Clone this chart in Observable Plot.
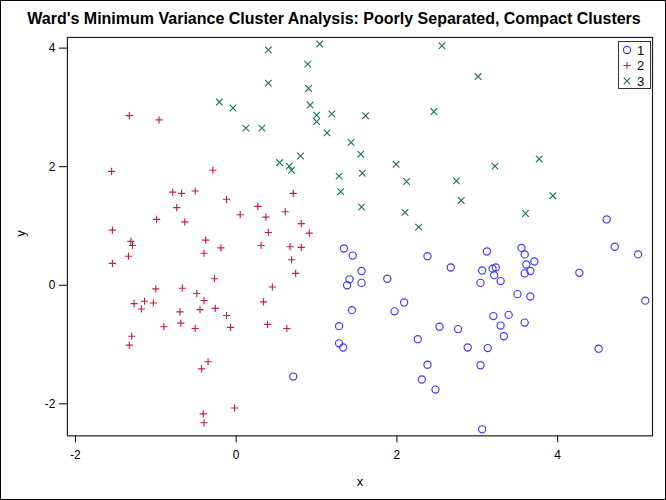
<!DOCTYPE html>
<html>
<head>
<meta charset="utf-8">
<script src="https://cdn.jsdelivr.net/npm/d3@7"></script>
<script src="https://cdn.jsdelivr.net/npm/@observablehq/plot@0.6"></script>
<style>
  body { margin: 0; background: #fff; }
  #wrap { position: relative; width: 666px; height: 500px; box-sizing: border-box; border: 1px solid #000; overflow: hidden; font-family: "Liberation Sans", Arial, sans-serif; }
  #title { position: absolute; left: 0; top: 9px; width: 666px; text-align: center; font-weight: bold; font-size: 16px; color: #000; }
  #chart { position: absolute; left: -1px; top: -1px; }
  #legend { position: absolute; left: 617px; top: 40px; width: 31px; height: 46px; border: 1px solid #333; background: #fff; }
  #legend svg { display: block; }
</style>
</head>
<body>
<div id="wrap">
  <div id="chart"></div>
  <div id="title">Ward's Minimum Variance Cluster Analysis: Poorly Separated, Compact Clusters</div>
  <div id="legend"></div>
</div>
<script>
// Cluster 1 (blue circles)
const cluster1X = [1.34, 1.45, 1.56, 1.41, 1.38, 1.56, 1.44, 1.28, 1.28, 1.33, 0.71,
  2.38, 2.67, 1.88, 2.09, 1.97, 2.53, 2.76, 2.26, 2.88, 3.13, 2.38, 2.31, 2.48, 3.04, 3.06,
  3.12, 3.06, 3.04, 3.19, 3.23, 3.21, 3.29, 3.55, 3.59, 3.61, 3.71, 3.59, 3.66, 3.50, 3.66,
  3.20, 3.39, 3.29, 3.33, 3.59, 4.27, 4.71, 5.00, 5.09, 4.51, 4.61];
const cluster1Y = [0.62, 0.50, 0.24, 0.10, 0.00, 0.04, -0.42, -0.69, -0.98, -1.05, -1.54,
  0.49, 0.30, 0.11, -0.29, -0.44, -0.70, -0.74, -0.91, -1.05, -1.06, -1.34, -1.59, -1.76, -1.35, -2.43,
  0.57, 0.25, 0.04, 0.28, 0.30, 0.17, 0.07, 0.63, 0.52, 0.35, 0.40, 0.20, 0.24, -0.15, -0.19,
  -0.52, -0.50, -0.68, -0.86, -0.63, 0.21, 0.65, 0.52, -0.26, -1.07, 1.11];

// Cluster 2 (red plus)
const cluster2X = [-1.33, -0.96, -1.55, -0.29, -0.79, -0.68, -0.51, -0.12, 0.71, -0.74,
  0.27, 0.05, 0.37, 0.61, -0.99, -0.64, 0.81, -1.54, 0.40, 0.91,
  -1.31, -1.29, -0.38, -0.19, -0.40, 0.31, 0.67, 0.81, -1.34, -1.54,
  0.69, 0.74, -0.27, -1.00, -0.67, 0.45, -0.49, -0.40, -1.27, -1.14,
  -1.18, -1.03, -0.70, -0.45, -0.26, 0.34, -0.12, -0.90, -0.69, -0.51,
  -0.07, 0.39, 0.63, -1.30, -1.33, -0.35, -0.43, -0.02, -0.41, -0.40];
const cluster2Y = [2.86, 2.79, 1.92, 1.94, 1.57, 1.55, 1.59, 1.45, 1.55, 1.31,
  1.33, 1.19, 1.15, 1.24, 1.11, 1.07, 1.04, 0.93, 0.89, 0.88,
  0.74, 0.67, 0.76, 0.63, 0.54, 0.67, 0.65, 0.64, 0.49, 0.37,
  0.43, 0.20, 0.11, -0.06, -0.05, -0.03, -0.14, -0.26, -0.31, -0.27,
  -0.40, -0.30, -0.45, -0.41, -0.39, -0.28, -0.51, -0.70, -0.64, -0.73,
  -0.71, -0.66, -0.73, -0.86, -1.01, -1.29, -1.41, -2.07, -2.17, -2.32];

// Cluster 3 (teal times)
const cluster3X = [0.40, 1.04, 0.89, 0.40, 0.90, -0.21, -0.04, 0.92, 1.00, 1.00,
  1.19, 0.12, 0.32, 1.13, 1.43, 1.55, 0.54, 0.66, 0.69, 0.80,
  1.28, 1.30, 1.57, 1.56, 2.56, 3.01, 1.61, 2.46, 1.99, 2.12,
  2.74, 3.22, 3.77, 2.10, 2.80, 2.27, 3.60, 3.94];
const cluster3Y = [3.97, 4.07, 3.73, 3.41, 3.32, 3.09, 2.99, 3.04, 2.87, 2.76,
  2.89, 2.65, 2.65, 2.57, 2.41, 2.21, 2.07, 2.01, 1.94, 2.18,
  1.84, 1.58, 1.89, 1.32, 4.04, 3.52, 2.86, 2.93, 2.04, 1.75,
  1.76, 2.01, 2.13, 1.23, 1.43, 0.98, 1.21, 1.51];

const clusters = ["1", "2", "3"];
const clusterColors = ["#3a3aff", "#c8203c", "#1b7565"];
const clusterSymbols = ["circle", "plus", "times"];
const xTicks = [-2, 0, 2, 4];
const yTicks = [-2, 0, 2, 4];

const points = [
  ...cluster1X.map((x, i) => ({x, y: cluster1Y[i], c: "1"})),
  ...cluster2X.map((x, i) => ({x, y: cluster2Y[i], c: "2"})),
  ...cluster3X.map((x, i) => ({x, y: cluster3Y[i], c: "3"}))
];

const fontFam = "'Liberation Sans', Arial, sans-serif";
const symR = {"1": 3.6, "2": 2.45, "3": 3.1};
const fmt = d => d < 0 ? "-" + Math.abs(d) : String(d);

const chart = Plot.plot({
  width: 666,
  height: 500,
  marginLeft: 67,
  marginRight: 13,
  marginTop: 37,
  marginBottom: 64,
  style: {fontFamily: fontFam, fontSize: "12px", color: "#000", background: "transparent"},
  x: {domain: [-2.1, 5.18], label: null},
  y: {domain: [-2.54, 4.18], label: null},
  color: {domain: clusters, range: clusterColors},
  symbol: {domain: clusters, range: clusterSymbols},
  marks: [
    Plot.axisX({ticks: xTicks, tickSize: 7, tickPadding: 8, tickFormat: fmt, fontSize: 12, stroke: "#000"}),
    Plot.axisY({ticks: yTicks, tickSize: 8, tickPadding: 4, tickFormat: fmt, fontSize: 12, stroke: "#000"}),
    ...clusters.map(c => Plot.dot(points.filter(d => d.c === c), {x: "x", y: "y", stroke: "c", symbol: "c", r: symR[c], strokeWidth: 1.15, fill: "none"})),
    Plot.frame({stroke: "#222", strokeWidth: 1.2}),
    Plot.text(["x"], {frameAnchor: "bottom", dy: 50, text: d => d, fontSize: 13}),
    Plot.text(["y"], {frameAnchor: "left", dx: -47, rotate: -90, text: d => d, fontSize: 13})
  ]
});
document.getElementById("chart").appendChild(chart);

// legend
const lg = d3.select("#legend").append("svg").attr("width", 31).attr("height", 46);
const symTypes = {"1": d3.symbolCircle, "2": d3.symbolPlus, "3": d3.symbolTimes};
clusters.forEach((c, i) => {
  const cy = 8 + i * 15.5;
  const sym = d3.symbol(symTypes[c], Math.PI * symR[c] * symR[c]);
  lg.append("path").attr("d", sym()).attr("transform", `translate(8,${cy})`)
    .attr("fill", "none").attr("stroke", clusterColors[i]).attr("stroke-width", 1.1);
  lg.append("text").attr("x", 18).attr("y", cy + 4.5).attr("font-size", 13)
    .attr("font-family", fontFam).attr("fill", "#000").text(c);
});
</script>
</body>
</html>
